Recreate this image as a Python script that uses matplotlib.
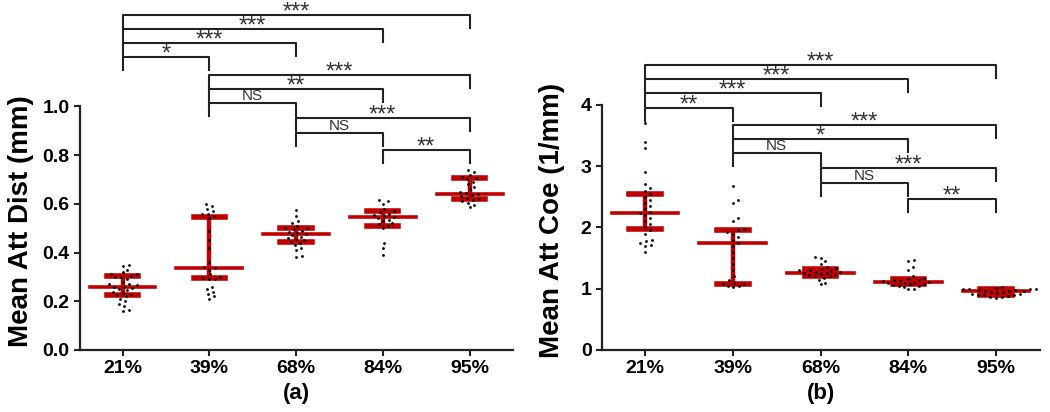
import numpy as np
import matplotlib
matplotlib.use("Agg")
from matplotlib import pyplot as plt

plt.rcParams['font.family'] = ['Liberation Sans', 'DejaVu Sans']

groups = ["21%", "39%", "68%", "84%", "95%"]

# Mean attenuation distance (mm), one list per group
dist_21 = [0.16, 0.165, 0.18, 0.19, 0.20, 0.21, 0.22, 0.225, 0.23, 0.235, 0.24, 0.245,
           0.25, 0.255, 0.26, 0.26, 0.265, 0.27, 0.27, 0.28, 0.29, 0.30, 0.30, 0.305,
           0.31, 0.31, 0.32, 0.33, 0.345, 0.35]
dist_39 = [0.21, 0.22, 0.23, 0.24, 0.25, 0.26, 0.29, 0.29, 0.295, 0.30, 0.31, 0.33,
           0.335, 0.34, 0.36, 0.42, 0.45, 0.49, 0.54, 0.55, 0.56, 0.56, 0.57, 0.58,
           0.59, 0.60]
dist_68 = [0.38, 0.385, 0.41, 0.42, 0.43, 0.44, 0.445, 0.45, 0.455, 0.46, 0.465, 0.47,
           0.475, 0.48, 0.485, 0.49, 0.495, 0.50, 0.50, 0.51, 0.52, 0.53, 0.55, 0.575]
dist_84 = [0.39, 0.42, 0.44, 0.50, 0.51, 0.515, 0.52, 0.53, 0.535, 0.54, 0.545, 0.55,
           0.555, 0.56, 0.565, 0.57, 0.58, 0.60, 0.61, 0.615]
dist_95 = [0.585, 0.595, 0.605, 0.61, 0.615, 0.62, 0.625, 0.63, 0.635, 0.64, 0.645,
           0.65, 0.66, 0.67, 0.68, 0.69, 0.70, 0.705, 0.71, 0.72, 0.73, 0.74]
dist_median = [0.26, 0.335, 0.475, 0.545, 0.64]
dist_q1 = [0.225, 0.295, 0.445, 0.51, 0.62]
dist_q3 = [0.305, 0.545, 0.50, 0.57, 0.705]

# Mean attenuation coefficient (1/mm)
coe_21 = [1.60, 1.70, 1.72, 1.75, 1.78, 1.80, 1.90, 1.95, 2.00, 2.05, 2.10, 2.15,
          2.20, 2.23, 2.25, 2.30, 2.35, 2.40, 2.45, 2.50, 2.55, 2.60, 2.65, 2.70,
          2.90, 3.30, 3.40, 3.70]
coe_39 = [1.02, 1.04, 1.05, 1.07, 1.08, 1.10, 1.15, 1.20, 1.30, 1.40, 1.50, 1.60,
          1.70, 1.75, 1.80, 1.85, 1.90, 1.92, 1.95, 1.97, 2.10, 2.15, 2.40, 2.45, 2.68]
coe_68 = [1.07, 1.10, 1.15, 1.18, 1.20, 1.20, 1.22, 1.23, 1.24, 1.25, 1.26, 1.27,
          1.28, 1.29, 1.30, 1.30, 1.32, 1.33, 1.35, 1.40, 1.45, 1.50, 1.52]
coe_84 = [0.99, 1.00, 1.02, 1.04, 1.05, 1.06, 1.07, 1.08, 1.09, 1.10, 1.10, 1.11,
          1.12, 1.13, 1.14, 1.15, 1.16, 1.17, 1.20, 1.30, 1.35, 1.45, 1.47]
coe_95 = [0.85, 0.86, 0.87, 0.88, 0.89, 0.90, 0.90, 0.91, 0.92, 0.93, 0.94, 0.95,
          0.96, 0.97, 0.97, 0.98, 0.98, 0.99, 0.99, 1.00, 1.00, 1.01, 1.02]
coe_median = [2.23, 1.75, 1.26, 1.11, 0.97]
coe_q1 = [1.97, 1.08, 1.20, 1.07, 0.90]
coe_q3 = [2.54, 1.95, 1.32, 1.16, 0.99]

# significance brackets: (from, to)
pairs = [(0, 4), (0, 3), (0, 2), (0, 1), (1, 4), (1, 3), (1, 2), (2, 4), (2, 3), (3, 4)]
dist_labels = ["***", "***", "***", "*", "***", "**", "NS", "***", "NS", "**"]
coe_labels = ["***", "***", "***", "**", "***", "*", "NS", "***", "NS", "**"]
dist_levels = [1.374, 1.317, 1.26, 1.202, 1.128, 1.071, 1.013, 0.952, 0.89, 0.82]
coe_levels = [4.65, 4.42, 4.19, 3.95, 3.67, 3.44, 3.21, 2.97, 2.72, 2.46]

W, H = 1050, 412
RED = "#bf0000"


def swarm(values, px_x, px_y, r=5.0):
    # simple beeswarm: closest free horizontal slot for each point
    vals = np.asarray(values)
    out = np.zeros(len(vals))
    placed = []
    for idx in np.argsort(vals):
        y = vals[idx] * px_y
        k = 0
        x_ok = None
        while x_ok is None:
            for c in ([0] if k == 0 else [k, -k]):
                x = c * 1.2
                if all((x - a) ** 2 + (y - b) ** 2 >= r ** 2 for a, b in placed):
                    x_ok = x
                    break
            k += 1
        placed.append((x_ok, y))
        out[idx] = x_ok / px_x
    return out


def panel(ax, data, med, q1, q3, labels, levels, ytop, ymax, yticks, ylabel, sub, lab_x):
    ax.set_xlim(-0.49, 4.5)
    ax.set_ylim(0, ymax)
    pos = ax.get_position()
    px_x = pos.width * W / 4.99
    px_y = pos.height * H / ymax
    leg = 13 / px_y
    x = np.arange(len(groups))
    for i in range(len(groups)):
        ax.plot([i, i], [q1[i], q3[i]], color=RED, lw=3.2, solid_capstyle="butt", zorder=2)
        ax.plot([i - 0.38, i + 0.38], [med[i], med[i]], color=RED, lw=2.6, zorder=2)
        for q in (q1[i], q3[i]):
            ax.plot([i - 0.18, i + 0.18], [q, q], color=RED, lw=4, zorder=2)
        off = swarm(data[i], px_x, px_y)
        ax.scatter(i + off, data[i], s=4, color="black", zorder=3, linewidths=0)
    for (a, b), lab, lev in zip(pairs, labels, levels):
        ax.plot([a, a, b, b], [lev - leg, lev, lev, lev - leg], color="#222222",
                lw=1.5, clip_on=False, zorder=1)
        if lab == "NS":
            ax.text((a + b) / 2, lev + 0.5 / px_y, lab, ha="center", va="bottom",
                    fontsize=11, color="#333333", clip_on=False)
        else:
            ax.text((a + b) / 2, lev - 3.5 / px_y, lab, ha="center",
                    va="baseline", fontsize=17, color="#333333", clip_on=False)
    for s in ("top", "right"):
        ax.spines[s].set_visible(False)
    ax.spines["left"].set_bounds(0, ytop)
    for s in ("left", "bottom"):
        ax.spines[s].set_linewidth(1.6)
        ax.spines[s].set_color("#222222")
    ax.set_xticks(x)
    ax.set_xticklabels(groups, fontsize=14, fontweight="bold")
    ax.set_yticks(yticks)
    ax.set_yticklabels([("%.1f" % t) if ytop < 2 else ("%d" % t) for t in yticks],
                       fontsize=14, fontweight="bold")
    ax.tick_params(direction="out", length=4.5, width=1.5, color="#222222", pad=3)
    ax.set_ylabel(ylabel, fontsize=20, fontweight="bold")
    ax.yaxis.set_label_coords(lab_x, 0.38)
    ax.set_xlabel(sub, fontsize=16, fontweight="bold", labelpad=4)


fig = plt.figure(figsize=(W / 100, H / 100), dpi=100)
ax1 = fig.add_axes([80 / W, 1 - 350 / H, (513 - 80) / W, 340 / H])
ax2 = fig.add_axes([602 / W, 1 - 350 / H, (1040 - 602) / W, 340 / H])

panel(ax1, [dist_21, dist_39, dist_68, dist_84, dist_95], dist_median, dist_q1, dist_q3,
      dist_labels, dist_levels, 1.0, 340 / 243.75, [0.0, 0.2, 0.4, 0.6, 0.8, 1.0],
      "Mean Att Dist (mm)", "(a)", -0.106)
panel(ax2, [coe_21, coe_39, coe_68, coe_84, coe_95], coe_median, coe_q1, coe_q3,
      coe_labels, coe_levels, 4.0, 340 / 61.3, [0, 1, 2, 3, 4],
      "Mean Att Coe (1/mm)", "(b)", -0.084)

fig.savefig("out.png", dpi=100)
